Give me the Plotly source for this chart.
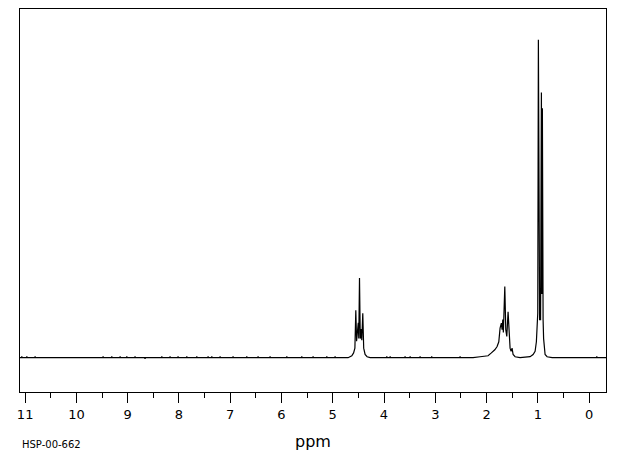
import plotly.graph_objects as go

# Baseline noise ticks (ppm, relative intensity)
noise_ppm = [11.10,
             11.073, 11.065, 11.057, 10.975, 10.967, 10.959, 10.813, 10.805, 10.797,
             9.487, 9.479, 9.471, 9.318, 9.310, 9.302, 9.155, 9.147, 9.139,
             9.025, 9.017, 9.009, 8.864, 8.856, 8.848, 8.669, 8.661, 8.653,
             8.342, 8.334, 8.326, 8.181, 8.173, 8.165, 8.025, 8.017, 8.009,
             7.855, 7.847, 7.839, 7.660, 7.652, 7.644, 7.439, 7.431, 7.423,
             7.367, 7.359, 7.351, 7.205, 7.197, 7.189, 6.952, 6.944, 6.936,
             6.685, 6.677, 6.669, 6.464, 6.456, 6.448, 6.230, 6.222, 6.214,
             5.904, 5.896, 5.888, 5.612, 5.604, 5.596, 5.391, 5.383, 5.375,
             5.124, 5.116, 5.108, 4.962, 4.954, 4.946]
noise_int = [0,
             0, 0.35, 0, 0, 0.35, 0, 0, 0.35, 0,
             0, 0.35, 0, 0, 0.35, 0, 0, 0.35, 0,
             0, 0.35, 0, 0, 0.35, 0, 0, -0.35, 0,
             0, 0.35, 0, 0, 0.35, 0, 0, 0.35, 0,
             0, 0.35, 0, 0, 0.35, 0, 0, 0.35, 0,
             0, 0.35, 0, 0, 0.35, 0, 0, 0.35, 0,
             0, 0.35, 0, 0, 0.35, 0, 0, 0.35, 0,
             0, 0.35, 0, 0, 0.35, 0, 0, 0.35, 0,
             0, 0.35, 0, 0, 0.35, 0]

# Multiplet near 4.5 ppm
m45_ppm = [4.70, 4.628, 4.593, 4.568, 4.550, 4.535, 4.515, 4.502, 4.492,
           4.478, 4.463, 4.447, 4.433, 4.414, 4.396, 4.369, 4.330, 4.27]
m45_int = [0, 0.6, 1.5, 3.0, 14.9, 5.2, 8.0, 11.0, 6.0,
           25.1, 6.0, 9.0, 5.5, 14.0, 3.0, 1.0, 0.3, 0]

# Noise between 4 and 2.3 ppm
mid_ppm = [3.954, 3.946, 3.938, 3.888, 3.880, 3.872, 3.597, 3.589, 3.581,
           3.498, 3.490, 3.482, 3.304, 3.296, 3.288, 3.078, 3.070, 3.062,
           2.524, 2.516, 2.508]
mid_int = [0, 0.35, 0, 0, 0.35, 0, 0, 0.35, 0,
           0, 0.35, 0, 0, 0.35, 0, 0, 0.35, 0,
           0, 0.35, 0]

# Multiplet near 1.6 ppm
m16_ppm = [2.263, 2.126, 2.028, 1.970, 1.906, 1.839, 1.794, 1.761, 1.736,
           1.711, 1.697, 1.683, 1.672, 1.644, 1.625, 1.605, 1.580, 1.560,
           1.541, 1.521, 1.502, 1.482, 1.443, 1.346]
m16_int = [0, 0.3, 0.6, 0.6, 1.5, 2.5, 3.5, 5.0, 9.3,
           10.9, 8.8, 12.0, 7.9, 22.4, 8.8, 6.7, 14.4, 5.7,
           3.0, 2.0, 3.0, 1.0, 0.3, 0]

# Multiplet near 0.95 ppm
m09_ppm = [1.151, 1.092, 1.053, 1.028, 1.014, 1.001, 0.989, 0.979, 0.965,
           0.946, 0.930, 0.921, 0.911, 0.897, 0.887, 0.858, 0.819, 0.72]
m09_int = [0.3, 1.0, 2.0, 5.0, 12.0, 14.0, 100.0, 36.0, 12.0,
           12.0, 83.4, 20.0, 78.5, 12.0, 6.0, 1.0, 0.3, 0]

# Right end
end_ppm = [-0.142, -0.150, -0.158, -0.33]
end_int = [0, 0.35, 0, 0]

ppm = noise_ppm + m45_ppm + mid_ppm + m16_ppm + m09_ppm + end_ppm
intensity = noise_int + m45_int + mid_int + m16_int + m09_int + end_int

tick_vals = [11, 10, 9, 8, 7, 6, 5, 4, 3, 2, 1, 0]
tick_text = [str(v) for v in tick_vals]

fig = go.Figure()
fig.add_trace(go.Scatter(x=ppm, y=intensity, mode="lines",
                         line=dict(color="black", width=1.2),
                         hoverinfo="skip", showlegend=False))

fig.update_layout(
    width=620, height=455,
    margin=dict(l=20, r=14, t=9, b=63),
    paper_bgcolor="white", plot_bgcolor="white",
    showlegend=False,
    font=dict(family="DejaVu Sans", color="black"),
    xaxis=dict(
        range=[11.10, -0.33], autorange=False,
        showgrid=False, zeroline=False,
        showline=True, linecolor="black", linewidth=1, mirror=True,
        ticks="outside", ticklen=10, tickwidth=1, tickcolor="black",
        tickvals=tick_vals, ticktext=tick_text,
        tickfont=dict(family="DejaVu Sans", size=13, color="black"),
        minor=dict(dtick=0.5, tick0=0, ticks="outside", ticklen=5,
                   tickwidth=1, tickcolor="black", showgrid=False),
    ),
    yaxis=dict(
        range=[-10.8, 109.7], autorange=False,
        showgrid=False, zeroline=False,
        showline=True, linecolor="black", linewidth=1, mirror=True,
        ticks="", showticklabels=False,
    ),
    annotations=[
        dict(text="ppm", xref="paper", yref="paper", x=0.5, y=-0.13,
             xanchor="center", yanchor="middle", showarrow=False,
             font=dict(family="DejaVu Sans", size=16, color="black")),
        dict(text="HSP-00-662", xref="paper", yref="paper", x=0.0, y=-0.136,
             xanchor="left", yanchor="middle", showarrow=False,
             font=dict(family="DejaVu Sans", size=10, color="black")),
    ],
)

fig.write_html("out.html")
